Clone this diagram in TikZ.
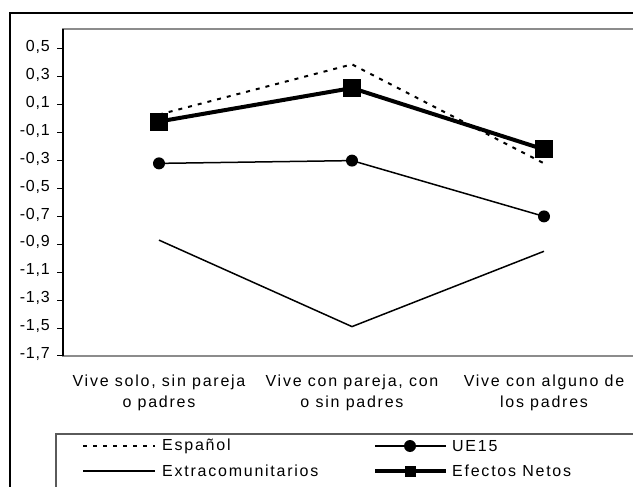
\documentclass[tikz,border=0pt]{standalone}
\usepackage{fontspec}
\setmainfont{Liberation Sans}
\newfontfamily\tickfont[LetterSpace=5]{Liberation Sans}
\newfontfamily\spaced[LetterSpace=11]{Liberation Sans}
\usetikzlibrary{positioning}
\definecolor{gg}{RGB}{140,140,140}
\definecolor{dd}{RGB}{90,90,90}
\def\ppu{139.5}
\def\yzero{118.75}
\newcommand{\datapt}[3]{\coordinate (#1) at (#2,{\yzero-\ppu*(#3)});}
\tikzset{
  tick/.style={anchor=mid east,inner sep=0pt,font=\tickfont\fontsize{16}{18}\selectfont},
  cat/.style={anchor=north,align=center,inner sep=0pt,font=\spaced\fontsize{16}{21}\selectfont},
  lg/.style={anchor=west,inner sep=0pt,font=\spaced\fontsize{16}{18}\selectfont},
  esp/.style={line width=2pt,dash pattern=on 4pt off 6pt},
  thin/.style={line width=1.5pt},
  netos/.style={line width=4pt},
  dot/.style={circle,fill=black,inner sep=0pt,minimum size=#1},
  sq/.style={rectangle,fill=black,inner sep=0pt,minimum width=#1,minimum height=#1}
}
\begin{document}
\begin{tikzpicture}[x=1pt,y=-1pt]
\useasboundingbox (0,0) rectangle (633,487);
\draw[line width=1.3pt] (10,13) rectangle (700,600);
\draw[gg,line width=1.2pt] (63,29) rectangle (700,356);
\draw[line width=1.2pt] (63,29) -- (63,356);
\foreach \v/\t [count=\i] in {0.5/{0,5},0.3/{0,3},0.1/{0,1},-0.1/{-0,1},-0.3/{-0,3},-0.5/{-0,5},-0.7/{-0,7},-0.9/{-0,9},-1.1/{-1,1},-1.3/{-1,3},-1.5/{-1,5},-1.7/{-1,7}}{
  \draw[line width=1pt] (57,{\yzero-\ppu*(\v)}) -- (63,{\yzero-\ppu*(\v)});
  \node[tick] (tk\i) at (50,{\yzero-\ppu*(\v)}) {\t};
}
\node[cat] (c1) at (159,375) {Vive solo, sin pareja\\o padres};
\node[cat] (c2) at (352,375) {Vive con pareja, con\\o sin padres};
\node[cat] (c3) at (544,375) {Vive con alguno de\\los padres};

\datapt{es1}{159}{0.03}
\datapt{es2}{352}{0.39}
\datapt{es3}{544}{-0.32}
\datapt{ue1}{159}{-0.32}
\datapt{ue2}{352}{-0.30}
\datapt{ue3}{544}{-0.70}
\datapt{ex1}{159}{-0.87}
\datapt{ex2}{352}{-1.49}
\datapt{ex3}{544}{-0.95}
\datapt{ef1}{159}{-0.02}
\datapt{ef2}{352}{0.22}
\datapt{ef3}{544}{-0.22}

\draw[esp] (es1) -- (es2) -- (es3);
\draw[thin] (ex1) -- (ex2) -- (ex3);
\draw[thin] (ue1) -- (ue2) -- (ue3);
\draw[netos] (ef1) -- (ef2) -- (ef3);
\foreach \p in {1,2,3}{
  \node[dot=12pt] (mue\p) at (ue\p) {};
  \node[sq=18pt] (mef\p) at (ef\p) {};
}

\draw[dd,line width=1.2pt] (56,434) rectangle (700,600);
\coordinate (les1) at (83,446);
\coordinate (les2) at (155,446);
\draw[esp] (les1) -- (les2);
\node[lg,right=7pt of les2] (tes) {Español};
\coordinate (lex1) at (83,471);
\coordinate (lex2) at (155,471);
\draw[thin] (lex1) -- (lex2);
\node[lg,right=7pt of lex2] (tex) {Extracomunitarios};
\coordinate (lue1) at (375,446);
\coordinate (lue2) at (446,446);
\draw[thin] (lue1) -- (lue2);
\node[dot=12pt] (lmue) at (410,446) {};
\node[lg,right=6pt of lue2] (tue) {UE15};
\coordinate (lef1) at (375,471);
\coordinate (lef2) at (446,471);
\draw[netos] (lef1) -- (lef2);
\node[sq=11pt] (lmef) at (410,471) {};
\node[lg,right=6pt of lef2] (tef) {Efectos Netos};
\end{tikzpicture}
\end{document}
